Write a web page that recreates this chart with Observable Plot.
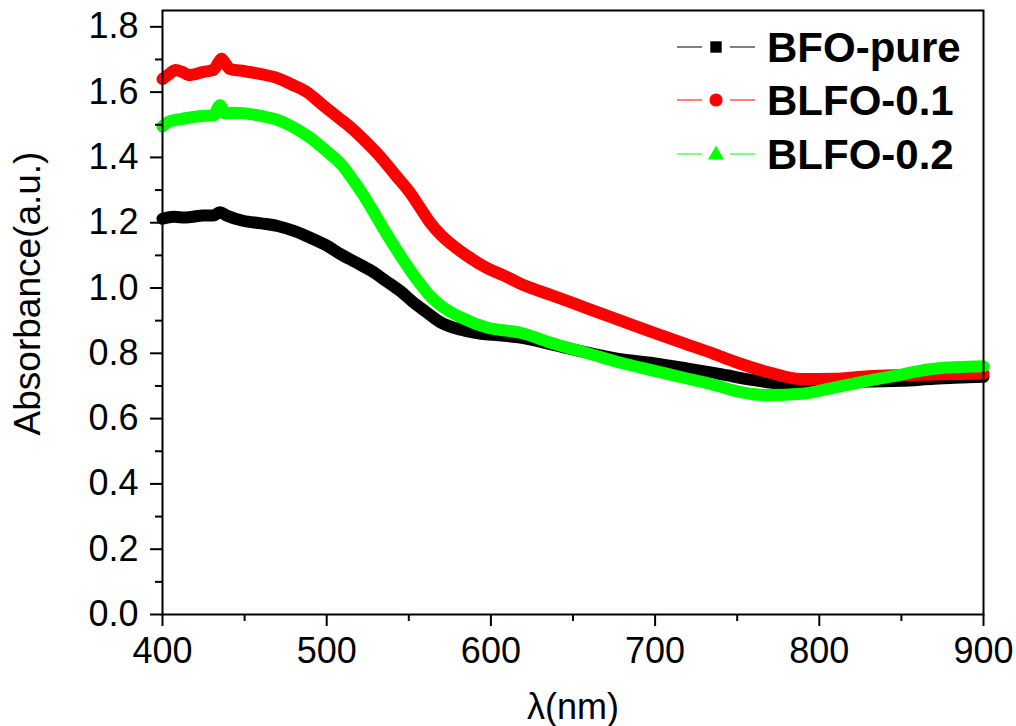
<!DOCTYPE html>
<html><head><meta charset="utf-8">
<script src="https://cdn.jsdelivr.net/npm/d3@7"></script>
<script src="https://cdn.jsdelivr.net/npm/@observablehq/plot@0.6"></script>
<style>
body{margin:0;background:#fff;}
#wrap{position:relative;width:1016px;height:726px;font-family:"Liberation Sans",Arial,sans-serif;}
#legend{position:absolute;left:0;top:0;pointer-events:none;}
</style></head><body><div id="wrap"></div>
<script>
const seriesNames = ["BFO-pure", "BLFO-0.1", "BLFO-0.2"];
const seriesColors = ["#000000", "#ff0000", "#00ff00"];
const seriesSymbols = ["square", "circle", "triangle"];

const bfoLambda = [400,407,414,425,431,435,439,449,460,470,480,490,500,508,518,527,536,545,553,561,569,582,594,605,618,638,659,679,699,720,740,760,775,789,809,830,850,870,900];
const bfoAbs    = [1.212,1.218,1.216,1.222,1.222,1.232,1.222,1.206,1.198,1.19,1.175,1.154,1.13,1.105,1.078,1.053,1.022,0.99,0.955,0.925,0.896,0.872,0.86,0.855,0.848,0.826,0.802,0.782,0.77,0.753,0.736,0.718,0.708,0.706,0.71,0.714,0.716,0.722,0.728];

const blfo1Lambda = [400,404,408,412,416,425,431,434,436,438,441,450,460,470,478,488,496,505,515,524,533,542,551,557,563,570,577,588,598,608,618,638,659,679,699,720,735,748,769,789,809,830,850,870,900];
const blfo1Abs    = [1.64,1.655,1.668,1.662,1.652,1.662,1.668,1.69,1.702,1.69,1.671,1.664,1.655,1.643,1.625,1.6,1.567,1.53,1.49,1.447,1.4,1.345,1.29,1.245,1.2,1.16,1.13,1.09,1.06,1.038,1.013,0.976,0.937,0.9,0.863,0.826,0.8,0.775,0.742,0.721,0.722,0.73,0.733,0.735,0.738];

const blfo2Lambda = [400,404,412,424,431,435,438,443,460,470,478,490,502,509,515,521,527,533,539,545,551,557,563,569.5,582,598,618,638,659,679,699,720,735,748,769,789,809,830,850,870,900];
const blfo2Abs    = [1.495,1.51,1.518,1.527,1.528,1.56,1.535,1.537,1.527,1.515,1.497,1.46,1.41,1.378,1.338,1.295,1.246,1.195,1.145,1.098,1.053,1.012,0.975,0.946,0.909,0.878,0.863,0.83,0.8,0.771,0.747,0.722,0.705,0.686,0.672,0.676,0.695,0.716,0.735,0.753,0.76];

const xTicks = [400, 500, 600, 700, 800, 900];
const xMinor = [450, 550, 650, 750, 850];
const yTicks = [0, 0.2, 0.4, 0.6, 0.8, 1.0, 1.2, 1.4, 1.6, 1.8];
const yMinor = [0.1, 0.3, 0.5, 0.7, 0.9, 1.1, 1.3, 1.5, 1.7];
const xTitle = "λ(nm)";
const yTitle = "Absorbance(a.u.)";

const lambdas = [bfoLambda, blfo1Lambda, blfo2Lambda];
const absVals = [bfoAbs, blfo1Abs, blfo2Abs];
const rows = [];
seriesNames.forEach((name, i) => {
  lambdas[i].forEach((l, j) => rows.push({series: name, lambda: l, abs: absVals[i][j]}));
});

const plot = Plot.plot({
  width: 1016,
  height: 726,
  marginLeft: 162,
  marginRight: 33,
  marginTop: 10,
  marginBottom: 112,
  style: {fontFamily: '"Liberation Sans", Arial, sans-serif', fontSize: "36px", color: "#000", background: "#fff"},
  x: {domain: [400, 900]},
  y: {domain: [0, 1.85]},
  color: {domain: seriesNames, range: seriesColors},
  marks: [
    seriesNames.map((name, i) => Plot.line(rows.filter(d => d.series === name), {
      x: "lambda", y: "abs", stroke: seriesColors[i], strokeWidth: 12, curve: "monotone-x", strokeLinejoin: "round"
    })),
    Plot.frame({stroke: "#000", strokeWidth: 2}),
    Plot.axisX(xTicks, {tickSize: 12, tickPadding: 11, strokeWidth: 2, label: null, fontSize: 36, tickFormat: d => String(d)}),
    Plot.axisX(xMinor, {tickSize: 7, strokeWidth: 2, label: null, tickFormat: () => ""}),
    Plot.axisY(yTicks, {tickSize: 12, tickPadding: 12, strokeWidth: 2, label: null, fontSize: 36, tickFormat: d => d.toFixed(1)}),
    Plot.axisY(yMinor, {tickSize: 7, strokeWidth: 2, label: null, tickFormat: () => ""}),
    Plot.text([xTitle], {text: d => d, frameAnchor: "bottom", textAnchor: "middle", lineAnchor: "middle", dy: 93, fontSize: 36}),
    Plot.text([yTitle], {text: d => d, frameAnchor: "left", textAnchor: "middle", lineAnchor: "middle", dx: -134, dy: -19, rotate: -90, fontSize: 37})
  ]
});
const wrap = document.getElementById("wrap");
wrap.appendChild(plot);

// legend overlay
const leg = d3.select(wrap).append("svg").attr("id", "legend").attr("width", 1016).attr("height", 726);
const rowY = [47, 100, 154];
seriesNames.forEach((name, i) => {
  const g = leg.append("g").attr("transform", `translate(0,${rowY[i]})`);
  g.append("line").attr("x1", 677).attr("x2", 702).attr("y1", 0).attr("y2", 0).attr("stroke", seriesColors[i]).attr("stroke-width", 1);
  g.append("line").attr("x1", 730).attr("x2", 755).attr("y1", 0).attr("y2", 0).attr("stroke", seriesColors[i]).attr("stroke-width", 1);
  const sym = {square: d3.symbolSquare, circle: d3.symbolCircle, triangle: d3.symbolTriangle}[seriesSymbols[i]];
  const size = {square: 130, circle: 135, triangle: 110}[seriesSymbols[i]];
  g.append("path").attr("d", d3.symbol(sym, size)()).attr("transform", `translate(716,${seriesSymbols[i]==="triangle"?1:0})`).attr("fill", seriesColors[i]);
  g.append("text").attr("x", 767).attr("y", 0).attr("dy", "0.35em")
    .attr("font-family", '"Liberation Sans", Arial, sans-serif').attr("font-weight", "bold").attr("font-size", 42)
    .attr("fill", "#000").text(name);
});
</script></body></html>
